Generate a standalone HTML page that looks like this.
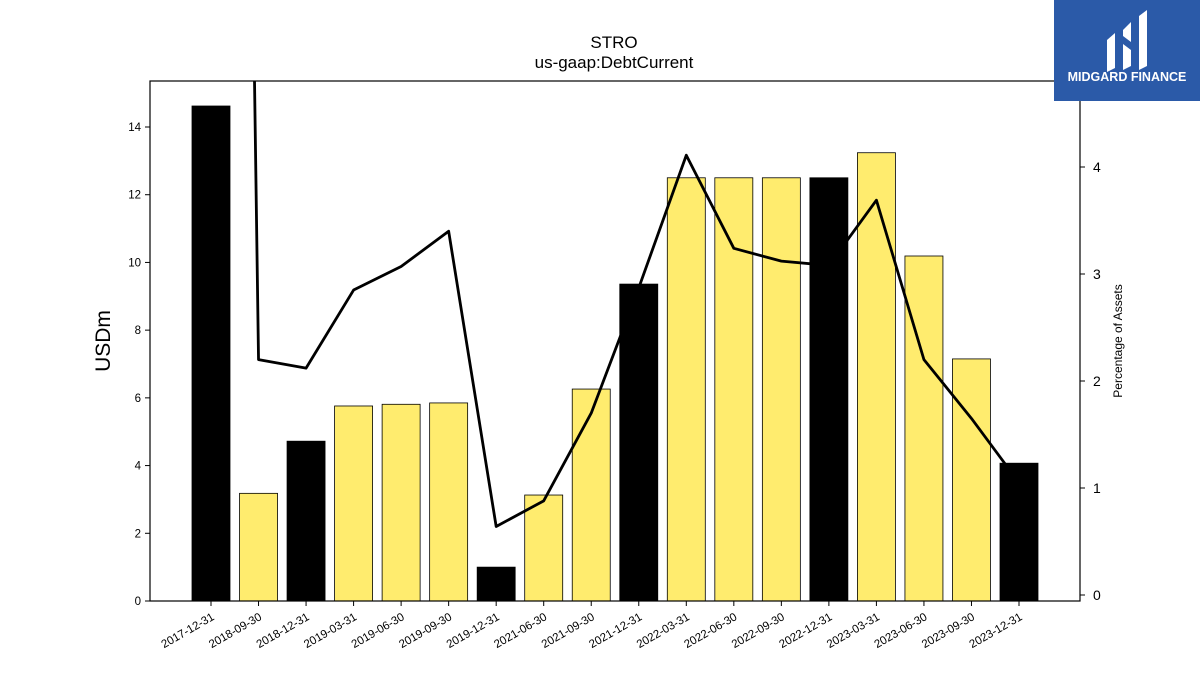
<!DOCTYPE html>
<html><head><meta charset="utf-8"><style>
body{margin:0;background:#fff;width:1200px;height:675px;overflow:hidden;font-family:"Liberation Sans",sans-serif}
</style></head><body>
<svg id="chart" width="1200" height="675" xmlns="http://www.w3.org/2000/svg" font-family="Liberation Sans, sans-serif">
<text x="614" y="48" text-anchor="middle" font-size="17">STRO</text>
<text x="614" y="68" text-anchor="middle" font-size="17">us-gaap:DebtCurrent</text>
<text transform="translate(110,341) rotate(-90)" text-anchor="middle" font-size="21">USDm</text>
<text transform="translate(1122,341) rotate(-90)" text-anchor="middle" font-size="12">Percentage of Assets</text>
<g id="bars"></g><g id="line"></g><g id="axes"></g>
<g>
<rect x="1054" y="0" width="146" height="101" fill="#2b5aa8"/>
<path d="M1107 40 L1115 33 L1115 68 L1107 72 Z M1123 30 L1131 22 L1131 42 L1123 36 Z M1123 44 L1131 50 L1131 66 L1123 70 Z M1139 16 L1147 10 L1147 66 L1139 70 Z" fill="#fff"/>
<text x="1127" y="81" text-anchor="middle" font-size="12.5" font-weight="bold" fill="#fff">MIDGARD FINANCE</text>
</g>
</svg>
<script>
const categories=["2017-12-31","2018-09-30","2018-12-31","2019-03-31","2019-06-30","2019-09-30","2019-12-31","2021-06-30","2021-09-30","2021-12-31","2022-03-31","2022-06-30","2022-09-30","2022-12-31","2023-03-31","2023-06-30","2023-09-30","2023-12-31"];
const debtValues=[14.62,3.18,4.72,5.76,5.81,5.85,1.0,3.13,6.26,9.36,12.5,12.5,12.5,12.5,13.24,10.19,7.15,4.07];
const pctValues=[33,2.20,2.12,2.85,3.07,3.40,0.64,0.88,1.70,2.87,4.11,3.24,3.12,3.08,3.69,2.20,1.65,1.05];
const leftTicks=[0,2,4,6,8,10,12,14];
const rightTicks=[0,1,2,3,4];
const NS="http://www.w3.org/2000/svg";
const L=150,R=1080,T=81,B=601;
const x=i=>211+i*(1019-211)/(categories.length-1);
const yL=v=>601-v*(601-127)/14;
const yR=v=>595-v*(595-167)/4;
function mk(t,a,p){const e=document.createElementNS(NS,t);for(const k in a)e.setAttribute(k,a[k]);p.appendChild(e);return e;}
const bars=document.getElementById('bars'),line=document.getElementById('line'),axes=document.getElementById('axes');
categories.forEach((c,i)=>{
 const ye=c.endsWith('12-31');
 const r=mk('rect',{x:x(i)-19,y:yL(debtValues[i]),width:38,height:yL(0)-yL(debtValues[i]),fill:ye?'#000':'#ffec6e',stroke:'#000','stroke-width':0.8},bars);
 
 
 mk('line',{x1:x(i),x2:x(i),y1:B,y2:B+5,stroke:'#000'},axes);
 const t=mk('text',{x:x(i)+4,y:B+18,'font-size':11.5,'text-anchor':'end',transform:`rotate(-30 ${x(i)+4} ${B+18})`},axes);
 t.textContent=c;
 
 
});
mk('clipPath',{id:'clp'},line).appendChild(Object.assign(document.createElementNS(NS,'rect'),{}));
line.firstChild.firstChild.setAttribute('x',L);line.firstChild.firstChild.setAttribute('y',T);line.firstChild.firstChild.setAttribute('width',R-L);line.firstChild.firstChild.setAttribute('height',B-T);
const pl=mk('polyline',{points:pctValues.map((v,i)=>x(i)+','+yR(v)).join(' '),fill:'none',stroke:'#000','stroke-width':2.8,'clip-path':'url(#clp)','stroke-linejoin':'round'},line);


mk('rect',{x:L,y:T,width:R-L,height:B-T,fill:'none',stroke:'#000','stroke-width':1.2},axes);
leftTicks.forEach(v=>{mk('line',{x1:L-5,x2:L,y1:yL(v),y2:yL(v),stroke:'#000'},axes);
 const t=mk('text',{x:L-9,y:yL(v)+4,'font-size':11.5,'text-anchor':'end'},axes);t.textContent=v;
 
 });
rightTicks.forEach(v=>{mk('line',{x1:R,x2:R+5,y1:yR(v),y2:yR(v),stroke:'#000'},axes);
 const t=mk('text',{x:R+13,y:yR(v)+5,'font-size':14},axes);t.textContent=v;
 
 });
</script>
</body></html>
